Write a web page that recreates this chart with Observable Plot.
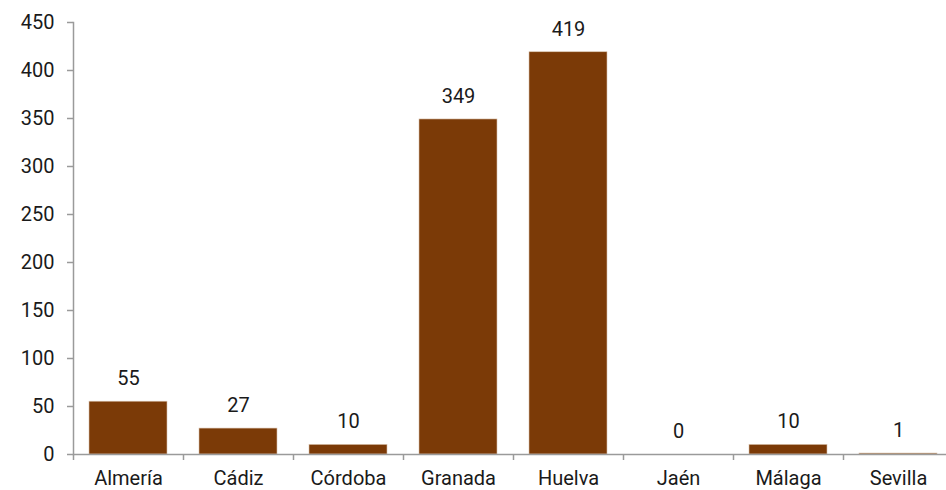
<!DOCTYPE html>
<html>
<head>
<meta charset="utf-8">
<script src="https://cdn.jsdelivr.net/npm/d3@7"></script>
<script src="https://cdn.jsdelivr.net/npm/@observablehq/plot@0.6"></script>
<style>
  html, body { margin: 0; padding: 0; background: #fff; overflow: hidden; }
</style>
</head>
<body>
<div id="chart"></div>
<script>
const categories = ["Almería", "Cádiz", "Córdoba", "Granada", "Huelva", "Jaén", "Málaga", "Sevilla"];
const values = [55, 27, 10, 349, 419, 0, 10, 1];
const yTicks = [0, 50, 100, 150, 200, 250, 300, 350, 400, 450];

const data = categories.map((c, i) => ({category: c, value: values[i]}));

const barColor = "#7b3a07";
const axisColor = "#9a9a9a";
const textColor = "#1a1a1a";
const font = "Roboto, 'Open Sans', sans-serif";

const chart = Plot.plot({
  width: 946,
  height: 490,
  marginLeft: 73,
  marginRight: 0,
  marginTop: 22,
  marginBottom: 36,
  style: {fontFamily: font, fontSize: "20px", color: textColor, background: "#fff"},
  x: {domain: categories, range: [73, 953], paddingInner: 0.29, paddingOuter: 0.145, label: null},
  y: {domain: [0, 450], ticks: yTicks, label: null},
  marks: [
    Plot.barY(data, {x: "category", y: "value", fill: barColor, stroke: "#d9c2ad", strokeWidth: 0.6}),
    Plot.text(data, {x: "category", y: "value", text: d => String(d.value), dy: -23, fontSize: 20, fill: textColor}),
    Plot.frame({anchor: "left", stroke: axisColor, strokeWidth: 1.5}),
    Plot.ruleY([0], {stroke: axisColor, strokeWidth: 1.5}),
    Plot.axisY({ticks: yTicks, tickSize: 6, tickPadding: 13, stroke: axisColor, strokeWidth: 1.5, fontSize: 20, fill: textColor}),
    Plot.axisX({tickSize: 6, dx: -55, tickFormat: () => "", stroke: axisColor, strokeWidth: 1.5}),
    Plot.axisX({tickSize: 0, tickPadding: 16, fontSize: 20, fill: textColor})
  ]
});
document.getElementById("chart").appendChild(chart);
</script>
</body>
</html>
